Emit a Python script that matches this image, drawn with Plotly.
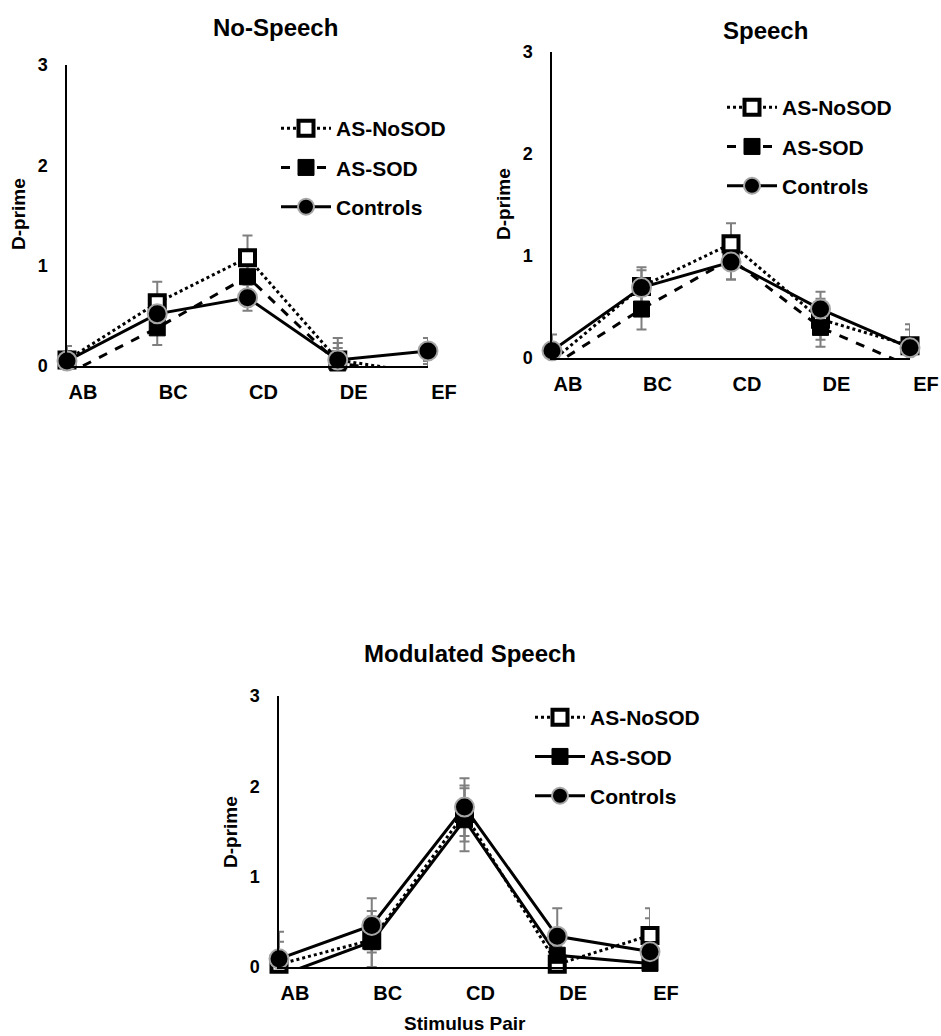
import plotly.graph_objects as go

W, H = 941, 1036
FONT = "Liberation Sans, Arial, sans-serif"

categories = ["AB", "BC", "CD", "DE", "EF"]
series_names = ["AS-NoSOD", "AS-SOD", "Controls"]
panel_titles = ["No-Speech", "Speech", "Modulated Speech"]
y_title = "D-prime"
x_title = "Stimulus Pair"
y_ticks = [0, 1, 2, 3]

# No-Speech
no_speech_nosod = [0.06, 0.63, 1.08, 0.06, -0.08]
no_speech_nosod_err = [0.14, 0.21, 0.22, 0.22, 0.20]
no_speech_sod = [-0.08, 0.38, 0.89, 0.03, -0.10]
no_speech_sod_err = [0.12, 0.17, 0.20, 0.20, 0.15]
no_speech_controls = [0.05, 0.52, 0.68, 0.06, 0.15]
no_speech_controls_err = [0.10, 0.12, 0.13, 0.12, 0.13]

# Speech
speech_nosod = [-0.03, 0.70, 1.12, 0.38, 0.12]
speech_nosod_err = [0.15, 0.19, 0.20, 0.20, 0.21]
speech_sod = [-0.08, 0.48, 0.97, 0.30, -0.08]
speech_sod_err = [0.15, 0.20, 0.20, 0.19, 0.15]
speech_controls = [0.07, 0.69, 0.94, 0.48, 0.10]
speech_controls_err = [0.16, 0.17, 0.17, 0.17, 0.18]

# Modulated Speech
mod_nosod = [0.03, 0.30, 1.70, 0.03, 0.35]
mod_nosod_err = [0.25, 0.32, 0.31, 0.20, 0.30]
mod_sod = [-0.10, 0.28, 1.63, 0.13, 0.04]
mod_sod_err = [0.20, 0.28, 0.35, 0.20, 0.20]
mod_controls = [0.09, 0.46, 1.77, 0.34, 0.17]
mod_controls_err = [0.30, 0.30, 0.32, 0.31, 0.37]

panels = [
    dict(vals=[no_speech_nosod, no_speech_sod, no_speech_controls],
         errs=[no_speech_nosod_err, no_speech_sod_err, no_speech_controls_err],
         sod_dash="dash",
         xpx=(67, 428), ypx=(65, 366),
         title_xy=(275, 27), ytitle_xy=(18, 214),
         legend_xy=(276, 108)),
    dict(vals=[speech_nosod, speech_sod, speech_controls],
         errs=[speech_nosod_err, speech_sod_err, speech_controls_err],
         sod_dash="dash",
         xpx=(552, 910), ypx=(52, 358),
         title_xy=(765, 30), ytitle_xy=(503, 204),
         legend_xy=(722, 87)),
    dict(vals=[mod_nosod, mod_sod, mod_controls],
         errs=[mod_nosod_err, mod_sod_err, mod_controls_err],
         sod_dash="solid",
         xpx=(279, 650), ypx=(696, 967),
         title_xy=(470, 653), ytitle_xy=(230, 832),
         legend_xy=(530, 697)),
]

fig = go.Figure()
layout = dict(
    width=W, height=H, margin=dict(l=0, r=0, t=0, b=0, autoexpand=False),
    paper_bgcolor="white", plot_bgcolor="white",
    font=dict(family=FONT, color="black"),
    showlegend=True, annotations=[],
)

for i, p in enumerate(panels):
    n = "" if i == 0 else str(i + 1)
    xa, ya = "x" + n, "y" + n
    leg = "legend" + n
    styles = [
        dict(line=dict(color="black", width=3, dash="dot"),
             marker=dict(symbol="square", size=15, color="white",
                         line=dict(color="black", width=4))),
        dict(line=dict(color="black", width=3, dash=p["sod_dash"]),
             marker=dict(symbol="square", size=16, color="black",
                         line=dict(color="black", width=1))),
        dict(line=dict(color="black", width=3, dash="solid"),
             marker=dict(symbol="circle", size=19, color="black",
                         line=dict(color="#a6a6a6", width=2))),
    ]
    # error bars (clipped to plot area)
    for k in range(3):
        fig.add_trace(go.Scatter(
            x=categories, y=p["vals"][k], mode="markers",
            marker=dict(size=1, opacity=0),
            error_y=dict(type="data", array=p["errs"][k], color="#7f7f7f",
                         thickness=2, width=5),
            xaxis=xa, yaxis=ya, showlegend=False, hoverinfo="skip",
            cliponaxis=True))
    for k in range(3):
        fig.add_trace(go.Scatter(
            x=categories, y=p["vals"][k], mode="lines+markers",
            name=series_names[k], line=styles[k]["line"],
            marker=styles[k]["marker"],
            xaxis=xa, yaxis=ya, legend=leg, legendgroup=f"g{i}{k}",
            cliponaxis=False))

    x0, x1 = p["xpx"]
    yt, yb = p["ypx"]
    layout["xaxis" + n] = dict(
        domain=[x0 / W, x1 / W], anchor=ya, type="category",
        categoryorder="array", categoryarray=categories,
        range=[0, len(categories) - 1], automargin=False,
        showline=True, linecolor="black", linewidth=1.5,
        showgrid=False, zeroline=False, ticks="",
        tickfont=dict(family=FONT, size=20, weight="bold", color="black"),
        ticklabelshift=16, ticklabelstandoff=7, ticklabeloverflow="allow",
    )
    layout["yaxis" + n] = dict(
        domain=[1 - yb / H, 1 - yt / H], anchor=xa,
        range=[0, 3], tickvals=y_ticks, automargin=False,
        showline=True, linecolor="black", linewidth=1.5,
        showgrid=False, zeroline=False, ticks="",
        tickfont=dict(family=FONT, size=18, weight="bold", color="black"),
        ticklabelstandoff=14,
    )
    lx, ly = p["legend_xy"]
    layout[leg] = dict(
        x=lx / W, y=1 - ly / H, xanchor="left", yanchor="top",
        xref="paper", yref="paper",
        font=dict(family=FONT, size=21, weight="bold", color="black"),
        bgcolor="rgba(0,0,0,0)", tracegroupgap=9, itemwidth=50,
        traceorder="grouped",
    )
    tx, ty = p["title_xy"]
    layout["annotations"].append(dict(
        text=panel_titles[i], x=tx / W, y=1 - ty / H, xref="paper", yref="paper",
        xanchor="center", yanchor="middle", showarrow=False,
        font=dict(family=FONT, size=24, weight="bold", color="black")))
    ax, ay = p["ytitle_xy"]
    layout["annotations"].append(dict(
        text=y_title, x=ax / W, y=1 - ay / H, xref="paper", yref="paper",
        xanchor="center", yanchor="middle", showarrow=False, textangle=-90,
        font=dict(family=FONT, size=19, weight="bold", color="black")))

layout["annotations"].append(dict(
    text=x_title, x=465 / W, y=1 - 1023 / H, xref="paper", yref="paper",
    xanchor="center", yanchor="middle", showarrow=False,
    font=dict(family=FONT, size=19, weight="bold", color="black")))

fig.update_layout(**layout)
fig.write_html("out.html")
